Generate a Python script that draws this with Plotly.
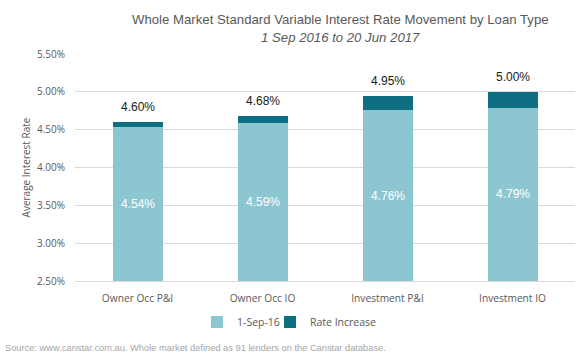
import plotly.graph_objects as go

categories = ["Owner Occ P&I", "Owner Occ IO", "Investment P&I", "Investment IO"]
base_rates = [4.54, 4.59, 4.76, 4.79]
new_rates = [4.60, 4.68, 4.95, 5.00]
increase = [round(n - b, 2) for n, b in zip(new_rates, base_rates)]
y_ticks = [2.5, 3.0, 3.5, 4.0, 4.5, 5.0, 5.5]
y_tick_labels = ["2.50%", "3.00%", "3.50%", "4.00%", "4.50%", "5.00%", "5.50%"]

W, H = 582, 361
L, R, T, B = 75, 7, 54, 80
ph = H - T - B
pw = W - L - R
ymin, ymax = 2.5, 5.5

def py(pix):
    return (H - B - pix) / ph

def px(pix):
    return (pix - L) / pw

light = "#8cc7d1"
dark = "#0e6f82"
gray = "#595959"

fig = go.Figure()
fig.add_trace(go.Bar(x=categories, y=base_rates, name="1-Sep-16", marker_color=light,
                     marker_line_width=0, width=0.4, legend="legend"))
fig.add_trace(go.Bar(x=categories, y=increase, name="Rate Increase", marker_color=dark,
                     marker_line_width=0, width=0.4, legend="legend2"))

ann = []
for c, b, n in zip(categories, base_rates, new_rates):
    ann.append(dict(x=c, y=(ymin + b) / 2, text=f"{b:.2f}%", showarrow=False,
                    font=dict(family="Liberation Sans, Arial", size=12, color="white"),
                    xref="x", yref="y"))
    ann.append(dict(x=c, y=n, text=f"{n:.2f}%", showarrow=False, yanchor="bottom", yshift=6,
                    font=dict(family="Liberation Sans, Arial", size=12, color="#1a1a1a"),
                    xref="x", yref="y"))

ann.append(dict(x=px(340), y=py(20), xref="paper", yref="paper", xanchor="center", yanchor="middle",
                text="Whole Market Standard Variable Interest Rate Movement by Loan Type",
                showarrow=False, font=dict(family="Liberation Sans, Arial", size=13.2, color=gray)))
ann.append(dict(x=px(340), y=py(37), xref="paper", yref="paper", xanchor="center", yanchor="middle",
                text="<i>1 Sep 2016 to 20 Jun 2017</i>",
                showarrow=False, font=dict(family="Liberation Sans, Arial", size=13.2, color=gray)))
ann.append(dict(x=px(3), y=py(348), xref="paper", yref="paper", xanchor="left", yanchor="middle",
                text="Source: www.canstar.com.au. Whole market defined as 91 lenders on the Canstar database.",
                showarrow=False, font=dict(family="Liberation Sans, Arial", size=9.3, color="#a6a6a6")))

leg_common = dict(orientation="h", xanchor="left", y=py(322), yanchor="middle",
                  font=dict(family="Open Sans", size=10.5, color=gray), itemwidth=30,
                  bgcolor="rgba(0,0,0,0)")

fig.update_layout(
    width=W, height=H,
    margin=dict(l=L, r=R, t=T, b=B),
    barmode="stack",
    plot_bgcolor="white", paper_bgcolor="white",
    font=dict(family="Open Sans, Noto Sans", size=10, color=gray),
    showlegend=True,
    legend=dict(x=px(197), **leg_common),
    legend2=dict(x=px(270), **leg_common),
    annotations=ann,
    xaxis=dict(showgrid=False, showline=True, linecolor="#d9d9d9", linewidth=1,
               tickfont=dict(family="Open Sans", size=10.2, color=gray), ticks="",
               ticklabelstandoff=8),
    yaxis=dict(range=[ymin, ymax], tickvals=y_ticks, ticktext=y_tick_labels,
               showgrid=True, gridcolor="#d9d9d9", gridwidth=1, zeroline=False,
               tickfont=dict(family="Open Sans", size=10, color=gray), ticklabelstandoff=9,
               title=dict(text="Average Interest Rate", standoff=4,
                          font=dict(family="Open Sans", size=10, color=gray))),
)

fig.write_html("out.html", config={"displayModeBar": False},
               post_script="document.body.style.margin='0';")
